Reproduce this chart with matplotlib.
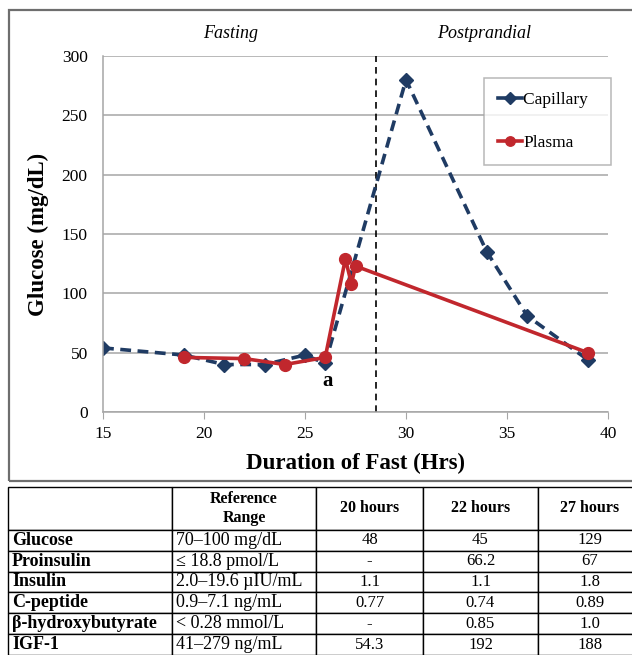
import matplotlib
matplotlib.use("Agg")
import matplotlib.pyplot as plt
from matplotlib.patches import Rectangle

plt.rcParams["font.family"] = ["Liberation Serif", "DejaVu Serif"]

# capillary glucose readings
cap_hrs = [15, 19, 21, 23, 25, 26, 30, 34, 36, 39]
cap_glu = [54, 48, 40, 40, 48, 41, 280, 135, 81, 44]

# plasma glucose readings
pla_hrs = [19, 22, 24, 26, 27, 27.3, 27.5, 39]
pla_glu = [46, 45, 40, 46, 129, 108, 123, 50]

meal_hr = 28.5

# lab table
col_labels = ["", "Reference\nRange", "20 hours", "22 hours", "27 hours"]
row_labels = ["Glucose", "Proinsulin", "Insulin", "C-peptide",
              "\u03b2-hydroxybutyrate", "IGF-1"]
ref_range = ["70\u2013100 mg/dL", "\u2264 18.8 pmol/L", "2.0\u201319.6 \u00b5IU/mL",
             "0.9\u20137.1 ng/mL", "< 0.28 mmol/L", "41\u2013279 ng/mL"]
h20 = ["48", "-", "1.1", "0.77", "-", "54.3"]
h22 = ["45", "66.2", "1.1", "0.74", "0.85", "192"]
h27 = ["129", "67", "1.8", "0.89", "1.0", "188"]

NAVY = "#1f3b63"
RED = "#c1272d"
GRID = "#a6a6a6"

W, H = 632, 655
fig = plt.figure(figsize=(W / 100, H / 100), dpi=100)

def fx(px): return px / W
def fy(py): return 1 - py / H

# outer frame around the chart
fig.patches.append(Rectangle((fx(9), fy(481)), fx(640 - 9), fy(10) - fy(481),
                             transform=fig.transFigure, fill=False,
                             edgecolor="#6e6e6e", lw=1.6))

ax = fig.add_axes([fx(103), fy(412), fx(608 - 103), fy(56) - fy(412)])
ax.set_xlim(15, 40)
ax.set_ylim(0, 300)
ax.set_xticks(range(15, 41, 5))
ax.set_yticks(range(0, 301, 50))
ax.grid(axis="y", color=GRID, lw=1.1)
ax.set_axisbelow(True)
for s in ["top", "right"]:
    ax.spines[s].set_visible(False)
for s in ["left", "bottom"]:
    ax.spines[s].set_color(GRID)
    ax.spines[s].set_linewidth(1.1)
ax.tick_params(axis="x", length=5, color=GRID, labelsize=12.5, pad=5)
ax.tick_params(axis="y", length=0, labelsize=12.5, pad=11)

ax.axvline(meal_hr, color="black", lw=1.2, ls=(0, (4, 3)))

ax.plot(cap_hrs, cap_glu, color=NAVY, lw=2.6, ls=(0, (3, 1.8)),
        marker="D", ms=7.5, label="Capillary  ")
ax.plot(pla_hrs, pla_glu, color=RED, lw=2.6, marker="o", ms=8.5,
        label="Plasma")

ax.text(26.1, 26, "a", fontsize=15, fontweight="bold", ha="center", va="center")

ax.set_xlabel("Duration of Fast (Hrs)", fontsize=16.5, fontweight="bold", labelpad=8)
ax.set_ylabel("Glucose (mg/dL)", fontsize=16.5, fontweight="bold", labelpad=9)

fig.text(fx(231), fy(34), "Fasting", fontsize=13, style="italic", ha="center", va="center")
fig.text(fx(484), fy(34), "Postprandial", fontsize=13, style="italic", ha="center", va="center")

leg = ax.legend(loc="upper right", bbox_to_anchor=(fx(611), fy(78)),
                bbox_transform=fig.transFigure, fontsize=12.5, frameon=True,
                fancybox=False, edgecolor=GRID, markerscale=0.8,
                handlelength=1.35, handletextpad=0.1, labelspacing=1.55,
                borderpad=0.8, borderaxespad=0)
leg.get_frame().set_linewidth(1.1)
for ln in leg.get_lines():
    ln.set_linestyle("-")

# lab values table
tax = fig.add_axes([fx(8), fy(655), fx(642 - 8), fy(487) - fy(655)])
tax.axis("off")
cells = [[r, rr, a, b, c] for r, rr, a, b, c in zip(row_labels, ref_range, h20, h22, h27)]
col_w = [164, 144, 107, 115, 104]
tbl = tax.table(cellText=[col_labels] + cells, colWidths=col_w,
                bbox=[0, 0, 1, 1], cellLoc="center")
tbl.auto_set_font_size(False)
for (r, c), cell in tbl.get_celld().items():
    txt = cell.get_text()
    cell.set_linewidth(1.0)
    cell.set_edgecolor("black")
    cell.set_height(2.05 if r == 0 else 1.0)
    cell.PAD = 0.025
    if r == 0:
        txt.set_fontweight("bold")
        txt.set_fontsize(11.5)
    elif c == 0:
        txt.set_fontweight("bold")
        txt.set_fontsize(13)
        txt.set_ha("left")
    elif c == 1:
        txt.set_fontsize(13)
        txt.set_ha("left")
    else:
        txt.set_fontsize(12)

fig.savefig("out.png", dpi=100)
